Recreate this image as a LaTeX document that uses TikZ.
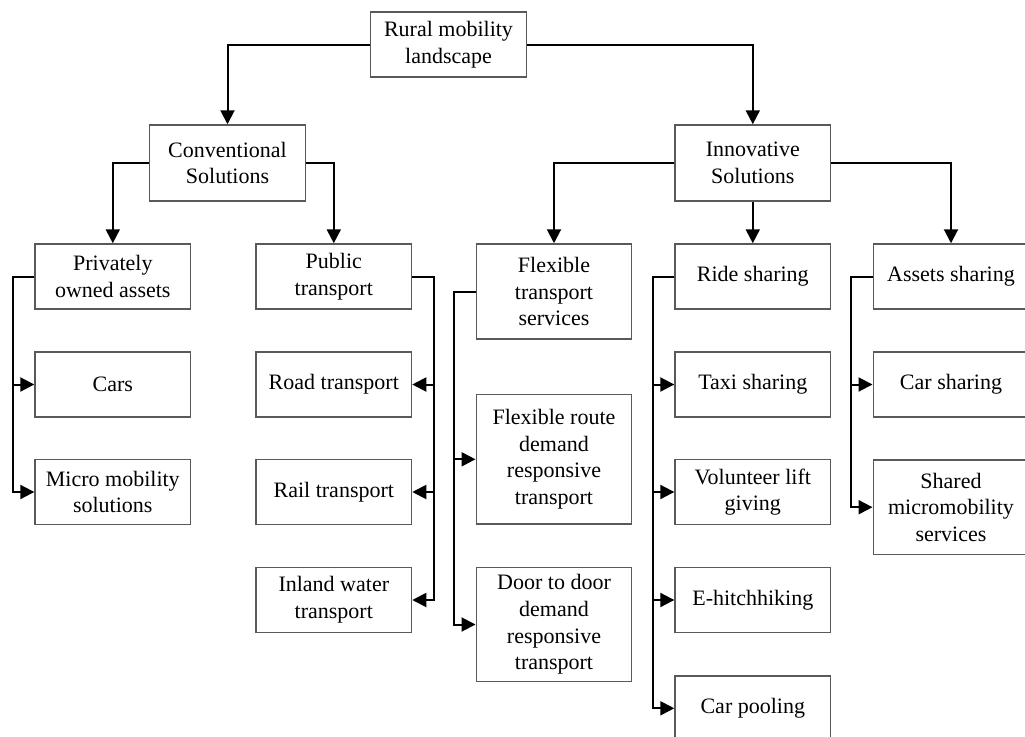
\documentclass[tikz,border=0pt]{standalone}
\usepackage{fontspec}
\setmainfont{Liberation Serif}
\usetikzlibrary{arrows.meta}
\begin{document}
\begin{tikzpicture}[x=0.75pt,y=-0.75pt,
  box/.style={draw=black!65,line width=1.1pt,fill=white,minimum width=155.5*0.75pt,
    minimum height=#1*0.75pt,inner sep=2pt,align=center,
    font=\fontsize{16.5}{20}\selectfont},
  box/.default=65,
  conn/.style={draw=black,line width=1.5pt,-{Triangle[length=10.5pt,width=10.5pt]}},
  link/.style={draw=black,line width=1.5pt}]
\clip (0,0) rectangle (1025,736);
\fill[white] (0,0) rectangle (1025,736);
% nodes
\node[box] (root) at (448.5,44.5) {Rural mobility\\landscape};
\node[box=76] (conv) at (227.5,163) {Conventional\\Solutions};
\node[box=76] (innov) at (752.8,163) {Innovative\\Solutions};
\node[box] (priv) at (112.8,276.5) {Privately\\owned assets};
\node[box] (cars) at (112.8,384.5) {Cars};
\node[box] (micro) at (112.8,492) {Micro mobility\\solutions};
\node[box] (public) at (333.8,276.5) {Public\\transport};
\node[box] (road) at (333.8,384.5) {Road transport};
\node[box] (rail) at (333.8,492) {Rail transport};
\node[box] (inland) at (333.8,600) {Inland water\\transport};
\node[box=95] (flex) at (554,291.5) {Flexible\\transport\\services};
\node[box=129.3] (route) at (554,459.3) {Flexible route\\demand\\responsive\\transport};
\node[box=114.4] (door) at (554,624.5) {Door to door\\demand\\responsive\\transport};
\node[box] (ride) at (752.8,276.5) {Ride sharing};
\node[box] (taxi) at (752.8,384.5) {Taxi sharing};
\node[box] (vol) at (752.8,492) {Volunteer lift\\giving};
\node[box] (ehitch) at (752.8,600) {E-hitchhiking};
\node[box] (pool) at (752.8,708.3) {Car pooling};
\node[box] (assets) at (951,276.5) {Assets sharing};
\node[box] (carshare) at (951,384.5) {Car sharing};
\node[box=94.3] (shared) at (951,507.2) {Shared\\micromobility\\services};
% top level
\draw[conn] (root.west) -| (conv.north);
\draw[conn] (root.east) -| (innov.north);
\draw[conn] (conv.west) -| (priv.north);
\draw[conn] (conv.east) -| (public.north);
\draw[conn] (innov.west) -| (flex.north);
\draw[conn] (innov.south) -- (ride.north);
\draw[conn] (innov.east) -| (assets.north);
% privately owned
\draw[conn] (priv.west) -- ++(-21.6,0) |- (cars.west);
\draw[conn] (priv.west) -- ++(-21.6,0) |- (micro.west);
% public transport
\draw[conn] (public.east) -- ++(21.6,0) |- (road.east);
\draw[conn] (public.east) -- ++(21.6,0) |- (rail.east);
\draw[conn] (public.east) -- ++(21.6,0) |- (inland.east);
% flexible
\draw[conn] (flex.west) -- ++(-21.7,0) |- (route.west);
\draw[conn] (flex.west) -- ++(-21.7,0) |- (door.west);
% ride sharing
\draw[conn] (ride.west) -- ++(-21.7,0) |- (taxi.west);
\draw[conn] (ride.west) -- ++(-21.7,0) |- (vol.west);
\draw[conn] (ride.west) -- ++(-21.7,0) |- (ehitch.west);
\draw[conn] (ride.west) -- ++(-21.7,0) |- (pool.west);
% assets sharing
\draw[conn] (assets.west) -- ++(-21.6,0) |- (carshare.west);
\draw[conn] (assets.west) -- ++(-21.6,0) |- (shared.west);
\end{tikzpicture}
\end{document}
